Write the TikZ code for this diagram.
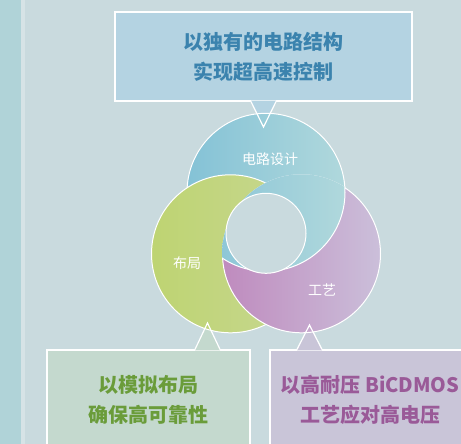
\documentclass[tikz,border=0pt]{standalone}
\usepackage{fontspec}
\newfontfamily\cjk{Noto Sans CJK SC}
\usetikzlibrary{calc}
\definecolor{bgcol}{HTML}{C9DADE}
\definecolor{stripcol}{HTML}{B0D3D8}
\definecolor{blueL}{HTML}{84C2D6}
\definecolor{blueR}{HTML}{B0D8DC}
\definecolor{greenL}{HTML}{BED472}
\definecolor{greenR}{HTML}{C7D792}
\definecolor{purpL}{HTML}{BF8BBE}
\definecolor{purpR}{HTML}{CBBFDA}
\definecolor{boxB}{HTML}{B4D3E2}
\definecolor{boxG}{HTML}{C4D9CE}
\definecolor{boxP}{HTML}{C9C5D8}
\definecolor{txtB}{HTML}{3B83AE}
\definecolor{txtG}{HTML}{6A9C3A}
\definecolor{txtP}{HTML}{9A5A98}
\tikzset{
  callout/.style={rectangle,draw=white,line width=1.2pt,inner sep=0pt,align=center,
    font={\cjk\fontsize{20}{30}\selectfont\bfseries}},
  ring/.style={draw=white,line width=1pt},
  ringlabel/.style={text=white,font={\cjk\fontsize{14}{16}\selectfont}},
  pointer/.style={draw=white,line width=1.2pt}
}

\begin{document}
\begin{tikzpicture}[x=1pt,y=-1pt]
\clip (0,0) rectangle (461,444);
\fill[bgcol] (0,0) rectangle (461,444);
\fill[stripcol] (0,0) rectangle (21,444);
\fill[white,opacity=0.25] (21,0) rectangle (25,444);

% callouts
\node[callout,fill=boxB,text=txtB,minimum width=297pt,minimum height=89pt] (topbox) at (263.5,56.5)
  {以独有的电路结构\\实现超高速控制};
\node[callout,fill=boxG,text=txtG,minimum width=203pt,minimum height=100pt] (leftbox) at (148.5,400)
  {以模拟布局\\确保高可靠性};
\node[callout,fill=boxP,text=txtP,minimum width=200pt,minimum height=100pt] (rightbox) at (370,400)
  {以高耐压 BiCDMOS\\工艺应对高电压};

\coordinate (tipB) at (263.5,127);
\coordinate (tipG) at (207.5,323);
\coordinate (tipP) at (309.5,325);

\fill[boxB] ($(tipB |- topbox.south)+(-12.5,-1)$) -- (tipB) -- ($(tipB |- topbox.south)+(12.5,-1)$) -- cycle;
\fill[boxG] ($(tipG |- leftbox.north)+(-12.5,1)$) -- (tipG) -- ($(tipG |- leftbox.north)+(12.5,1)$) -- cycle;
\fill[boxP] ($(tipP |- rightbox.north)+(-12.5,1)$) -- (tipP) -- ($(tipP |- rightbox.north)+(12.5,1)$) -- cycle;

% three interlocking rings around a common hole
\coordinate (cB) at (266,192.3);
\coordinate (cG) at (230.5,253.8);
\coordinate (cP) at (301.5,253.8);
\coordinate (hole) at (266,233.3);
\path[ring,left color=blueL,right color=blueR] (cB) circle (79pt);
\path[ring,left color=greenL,right color=greenR] (cG) circle (79pt);
\path[ring,left color=purpL,right color=purpR] (cP) circle (79pt);
\begin{scope}
  \clip (cP) circle (79.5pt);
  \path[ring,left color=blueL,right color=blueR] (cB) circle (79pt);
\end{scope}
\path[ring,fill=bgcol] (hole) circle (40pt);

\node[ringlabel] (design) at (270,159) {电路设计};
\node[ringlabel] (layout) at (187,263) {布局};
\node[ringlabel] (process) at (322,290) {工艺};

\draw[pointer] ($(tipB |- topbox.south)+(-12.5,0)$) -- (tipB) -- ($(tipB |- topbox.south)+(12.5,0)$);
\draw[pointer] ($(tipG |- leftbox.north)+(-12.5,0)$) -- (tipG) -- ($(tipG |- leftbox.north)+(12.5,0)$);
\draw[pointer] ($(tipP |- rightbox.north)+(-12.5,0)$) -- (tipP) -- ($(tipP |- rightbox.north)+(12.5,0)$);
\end{tikzpicture}
\end{document}
